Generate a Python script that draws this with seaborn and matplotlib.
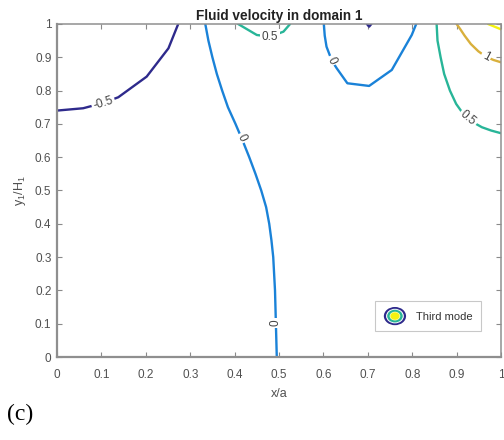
import matplotlib
matplotlib.use("Agg")
import matplotlib.pyplot as plt
import seaborn as sns
import pandas as pd
from matplotlib.patches import Ellipse
from matplotlib.legend_handler import HandlerBase

# ---- data: contour lines (x/a, y1/H1) ----
neg05_x = [0.0, 0.059, 0.104, 0.138, 0.202, 0.251, 0.273]
neg05_y = [0.740, 0.747, 0.763, 0.780, 0.842, 0.927, 1.0]
neg05_tip_x = [0.698, 0.703, 0.708]
neg05_tip_y = [1.0, 0.992, 1.0]

zero_left_x = [0.334, 0.341, 0.350, 0.360, 0.372, 0.385, 0.402, 0.418, 0.433, 0.447,
               0.460, 0.471, 0.478, 0.483, 0.487, 0.489, 0.491, 0.492, 0.493, 0.494, 0.495]
zero_left_y = [1.0, 0.95, 0.90, 0.85, 0.80, 0.75, 0.70, 0.65, 0.60, 0.55,
               0.50, 0.45, 0.40, 0.35, 0.30, 0.25, 0.20, 0.15, 0.10, 0.05, 0.0]

zero_right_x = [0.601, 0.603, 0.607, 0.619, 0.630, 0.654, 0.703, 0.754, 0.799, 0.809]
zero_right_y = [1.0, 0.965, 0.932, 0.890, 0.867, 0.822, 0.814, 0.862, 0.967, 1.0]

half_top_x = [0.408, 0.450, 0.480, 0.510, 0.525]
half_top_y = [1.0, 0.967, 0.962, 0.977, 1.0]

half_right_x = [0.855, 0.857, 0.864, 0.872, 0.885, 0.899, 0.915, 0.937, 0.957, 0.978, 1.0]
half_right_y = [1.0, 0.95, 0.90, 0.85, 0.80, 0.76, 0.73, 0.705, 0.690, 0.680, 0.672]

one_x = [0.900, 0.908, 0.918, 0.932, 0.949, 0.966, 0.983, 1.0]
one_y = [1.0, 0.985, 0.965, 0.940, 0.918, 0.902, 0.892, 0.885]

onehalf_x = [0.971, 1.0]
onehalf_y = [1.0, 0.984]

# contour labels: text, x, y, rotation
label_text = ["-0.5", "0", "0", "0.5", "0", "0.5", "1"]
label_x = [0.104, 0.416, 0.493, 0.480, 0.619, 0.926, 0.966]
label_y = [0.763, 0.657, 0.103, 0.962, 0.890, 0.717, 0.902]
label_rot = [17, -65, 90, 0, -65, -40, -28]

x_ticks = [0, 0.1, 0.2, 0.3, 0.4, 0.5, 0.6, 0.7, 0.8, 0.9, 1]
x_ticklabels = ["0", "0.1", "0.2", "0.3", "0.4", "0.5", "0.6", "0.7", "0.8", "0.9", "1"]
y_ticks = x_ticks
y_ticklabels = x_ticklabels

# parula-like colours per level
col_m05 = "#2e2a8c"
col_0 = "#1a82d8"
col_05 = "#28b598"
col_1 = "#d9b03c"
col_15 = "#f5f20f"

sns.set_theme(style="white")
plt.rcParams["font.family"] = ["Liberation Sans", "DejaVu Sans"]
plt.rcParams["mathtext.fontset"] = "custom"
plt.rcParams["mathtext.rm"] = "Liberation Sans"
plt.rcParams["mathtext.it"] = "Liberation Sans"

fig = plt.figure(figsize=(5.04, 4.40), dpi=100)
ax = fig.add_axes([57 / 504, 1 - 357 / 440, 444 / 504, 333 / 440])

lines = [
    (neg05_x, neg05_y, col_m05),
    (neg05_tip_x, neg05_tip_y, col_m05),
    (zero_left_x, zero_left_y, col_0),
    (zero_right_x, zero_right_y, col_0),
    (half_top_x, half_top_y, col_05),
    (half_right_x, half_right_y, col_05),
    (one_x, one_y, col_1),
    (onehalf_x, onehalf_y, col_15),
]
for xs, ys, c in lines:
    df = pd.DataFrame({"x": xs, "y": ys})
    sns.lineplot(data=df, x="x", y="y", sort=False, estimator=None,
                 color=c, lw=1.7, ax=ax, legend=False)

for t, lx, ly, r in zip(label_text, label_x, label_y, label_rot):
    ax.text(lx, ly, t, rotation=r, ha="center", va="center", fontsize=8.5,
            color="#444444", rotation_mode="anchor",
            bbox=dict(boxstyle="square,pad=0.15", fc="white", ec="none"), zorder=5)

ax.set_xlim(0, 1)
ax.set_ylim(0, 1)
ax.set_xticks(x_ticks)
ax.set_xticklabels(x_ticklabels)
ax.set_yticks(y_ticks)
ax.set_yticklabels(y_ticklabels)
ax.tick_params(axis="both", which="both", direction="in", length=3.5, width=0.8,
               color="#8a8a8a", labelcolor="#505050", labelsize=8.5,
               top=True, right=True, bottom=True, left=True)
ax.tick_params(axis="x", pad=8.5)
ax.tick_params(axis="y", pad=4)
for s in ax.spines.values():
    s.set_color("#8f8f8f")
    s.set_linewidth(1.1)
ax.spines["bottom"].set_linewidth(1.6)
ax.spines["left"].set_linewidth(1.6)

ax.set_xlabel("x/a", fontsize=9, color="#505050", labelpad=5)
ax.set_ylabel(r"y$_1$/H$_1$", fontsize=9, color="#505050", labelpad=5)
ax.set_title("Fluid velocity in domain 1", fontsize=9.8, fontweight="bold",
             color="#222222", pad=3)


class NestedEllipseHandler(HandlerBase):
    def create_artists(self, legend, orig_handle, xdescent, ydescent,
                       width, height, fontsize, trans):
        cx = 0.5 * width - xdescent
        cy = 0.5 * height - ydescent
        w = width
        h = width * 0.82
        arts = []
        for scale, fc in [(1.0, col_m05), (0.80, "white"), (0.70, col_05),
                          (0.48, "#fbfbb0"), (0.40, col_15)]:
            e = Ellipse((cx, cy), w * scale, h * scale, fc=fc, ec="none",
                        transform=trans)
            arts.append(e)
        return arts


proxy = Ellipse((0, 0), 1, 1)
leg = ax.legend([proxy], ["Third mode"], handler_map={Ellipse: NestedEllipseHandler()},
                loc="lower right", bbox_to_anchor=(0.955, 0.078), borderaxespad=0,
                fontsize=8, frameon=True, fancybox=False, handlelength=2.0,
                handleheight=1.3, handletextpad=0.85, borderpad=0.8)
leg.get_frame().set_edgecolor("#bbbbbb")
leg.get_frame().set_linewidth(0.8)
for t in leg.get_texts():
    t.set_color("#333333")

fig.text(0.014, 0.057, "(c)", fontsize=17, family="Liberation Serif",
         ha="left", va="center", color="black")

fig.savefig("out.png", dpi=100)
